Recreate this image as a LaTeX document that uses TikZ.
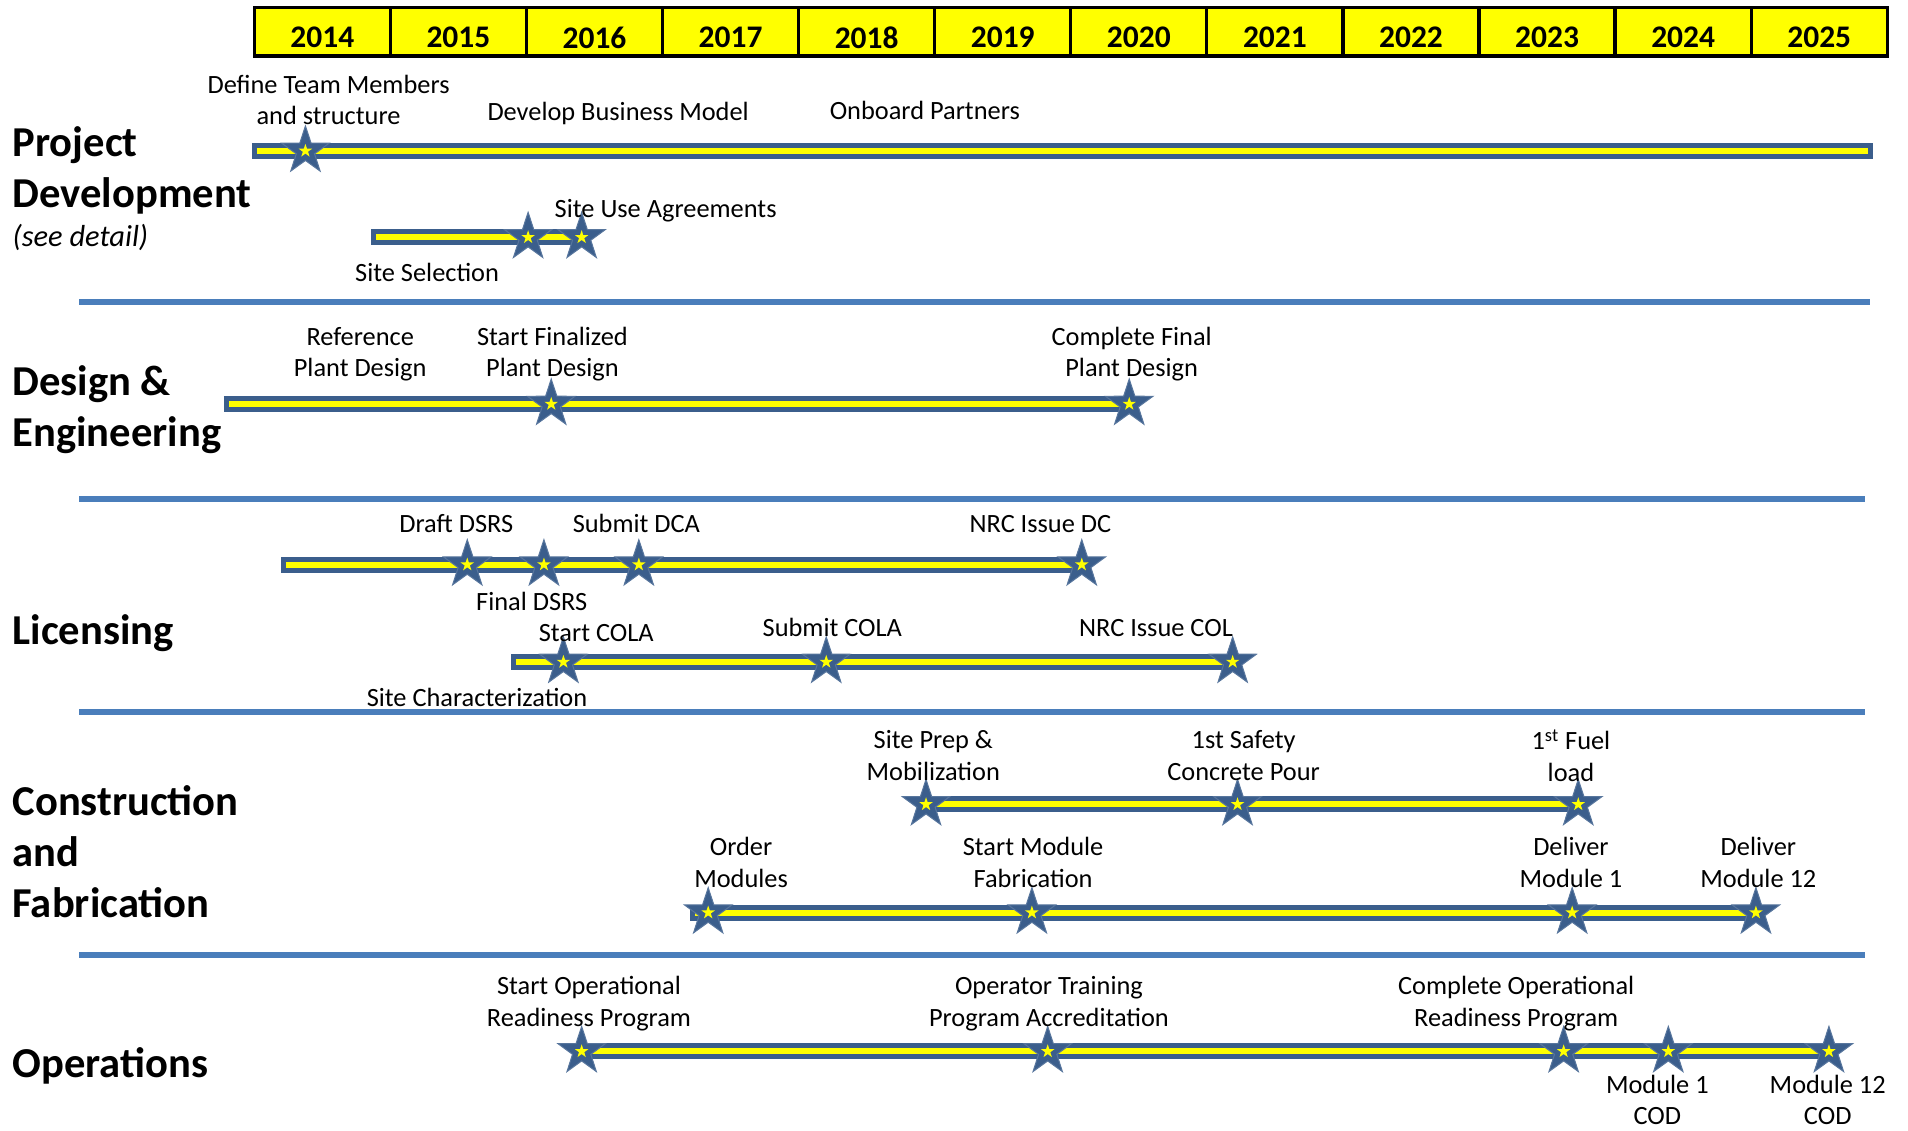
\documentclass[tikz,border=0pt]{standalone}
\usepackage{fontspec}
\setmainfont{Carlito}
\usetikzlibrary{shapes.geometric,backgrounds}

\definecolor{barblue}{RGB}{59,94,140}
\definecolor{rowblue}{RGB}{74,126,187}
\definecolor{hiyellow}{RGB}{255,255,0}

\tikzset{
	yearcell/.style={draw=black, line width=1.6pt, fill=hiyellow, minimum width=67.1pt, minimum height=24pt, inner sep=0pt},
	yeartext/.style={inner sep=0pt, font=\fontsize{15.5}{18}\selectfont\bfseries},
	rowhead/.style={anchor=west, align=left, inner sep=0pt, font=\fontsize{21}{25.2}\selectfont\bfseries},
	note/.style={align=center, inner sep=0pt, font=\fontsize{13}{15.6}\selectfont},
	mstar/.style={star, star points=5, star point ratio=2.6, minimum size=24.6pt, inner sep=0pt, fill=barblue, draw=barblue!85!white, line width=0.5pt},
	ystar/.style={star, star points=5, star point ratio=2.6, minimum size=7pt, inner sep=0pt, fill=hiyellow},
	sepline/.style={rowblue, line width=2.8pt},
	barout/.style={barblue, line width=7.8pt},
	barin/.style={hiyellow, line width=3pt, shorten <=2.4pt, shorten >=2.4pt}
}
\newcommand{\milestone}[2]{\node[mstar] (#1) at (#2) {}; \node[ystar] (#1in) at (#1.center) {};}
\newcommand{\tlbar}[2]{\draw[barout] (#1) -- (#2); \draw[barin] (#1) -- (#2);}

\begin{document}
\begin{tikzpicture}[x=0.6pt, y=-0.6pt]
			%%%%% START %%%%%
			\useasboundingbox (0,0) rectangle (1568,929);
			
			\foreach \yr [count=\i from 0] in {2014,...,2025} {
				\node[yearcell] (c\yr) at ({264.9+111.83*\i}, 26) {};
				\node[yeartext] (t\yr) at ({264.9+111.83*\i}, 31) {\yr};
			}
			
			\node[rowhead] (hproj) at (10, 140) {Project\\Development};
			\node[anchor=west, inner sep=0pt, font=\fontsize{15}{18}\selectfont\itshape] (hsee) at (10, 195) {(see detail)};
			\node[rowhead] (hdes) at (10, 337) {Design \&\\Engineering};
			\node[rowhead] (hlic) at (10, 520) {Licensing};
			\node[rowhead] (hcon) at (10, 700) {Construction\\and\\Fabrication};
			\node[rowhead] (hops) at (10, 876) {Operations};
			
			\draw[sepline] (65, 248) -- (1537, 248);
			\draw[sepline] (65, 410) -- (1533, 410);
			\draw[sepline] (65, 585) -- (1533, 585);
			\draw[sepline] (65, 785) -- (1533, 785);
			
			% project development
			\milestone{sTeam}{251, 124}
			\milestone{sSiteSel}{434, 195}
			\milestone{sSiteUse}{478, 195}
			\node[note] (lteam) at (270, 82) {Define Team Members\\and structure};
			\node[note] (lbiz) at (508, 93) {Develop Business Model};
			\node[note] (lpartner) at (760, 91) {Onboard Partners};
			\node[note] (lsiteuse) at (547, 173) {Site Use Agreements};
			\node[note] (lsitesel) at (351, 224) {Site Selection};
			
			% design
			\milestone{sStartFin}{453, 332}
			\milestone{sCompFin}{928, 332}
			\node[note] (lref) at (296, 291) {Reference\\Plant Design};
			\node[note] (lstartfin) at (454, 291) {Start Finalized\\Plant Design};
			\node[note] (lcompfin) at (930, 291) {Complete Final\\Plant Design};
			
			% licensing
			\milestone{sDraft}{384, 464}
			\milestone{sFinal}{447, 464}
			\milestone{sDCA}{525, 464}
			\milestone{sDC}{889, 464}
			\milestone{sStartCola}{463, 544}
			\milestone{sSubCola}{679, 544}
			\milestone{sCol}{1013, 544}
			\node[note] (ldraft) at (375, 430) {Draft DSRS};
			\node[note] (lsubdca) at (523, 430) {Submit DCA};
			\node[note] (ldc) at (855, 431) {NRC Issue DC};
			\node[note] (lfinal) at (437, 494) {Final DSRS};
			\node[note] (lstartcola) at (490, 520) {Start COLA};
			\node[note] (lsubcola) at (684, 516) {Submit COLA};
			\node[note] (lcol) at (950, 516) {NRC Issue COL};
			\node[note] (lsitechar) at (392, 573) {Site Characterization};
			
			% construction
			\milestone{sPrep}{761, 661}
			\milestone{sPour}{1017, 661}
			\milestone{sFuel}{1297, 661}
			\milestone{sOrder}{582, 750}
			\milestone{sFab}{848, 750}
			\milestone{sDel1}{1292, 750}
			\milestone{sDel12}{1443, 750}
			\node[note] (lprep) at (767, 621) {Site Prep \&\\Mobilization};
			\node[note] (lpour) at (1022, 621) {1st Safety\\Concrete Pour};
			\node[note] (lfuel) at (1291, 621) {1\textsuperscript{st} Fuel\\load};
			\node[note] (lorder) at (609, 709) {Order\\Modules};
			\node[note] (lfab) at (849, 709) {Start Module\\Fabrication};
			\node[note] (ldel1) at (1291, 709) {Deliver\\Module 1};
			\node[note] (ldel12) at (1445, 709) {Deliver\\Module 12};
			
			% operations
			\milestone{sStartOps}{478, 864}
			\milestone{sTrain}{861, 864}
			\milestone{sCompOps}{1285, 864}
			\milestone{sCod1}{1371, 864}
			\milestone{sCod12}{1503, 864}
			\node[note] (lstartops) at (484, 825) {Start Operational\\Readiness Program};
			\node[note] (ltrain) at (862, 825) {Operator Training\\Program Accreditation};
			\node[note] (lcompops) at (1246, 825) {Complete Operational\\Readiness Program};
			\node[note] (lcod1) at (1362, 904) {Module 1\\COD};
			\node[note] (lcod12) at (1502, 904) {Module 12\\COD};
			
			\coordinate (pdA) at (207, 124);
			\coordinate (pdB) at (1539, 124);
			\coordinate (siteA) at (305, 195);
			\coordinate (desA) at (184, 332);
			\coordinate (licA) at (231, 464);
			\coordinate (colaA) at (420, 544);
			\coordinate (modA) at (567, 750);
			
			\begin{scope}[on background layer]
				\tlbar{pdA}{pdB}
				\tlbar{siteA}{sSiteUse.center}
				\tlbar{desA}{sCompFin.center}
				\tlbar{licA}{sDC.center}
				\tlbar{colaA}{sCol.center}
				\tlbar{sPrep.center}{sFuel.center}
				\tlbar{modA}{sDel12.center}
				\tlbar{sStartOps.center}{sCod12.center}
			\end{scope}
			
			%%%%% END %%%%%
\end{tikzpicture}
\end{document}
